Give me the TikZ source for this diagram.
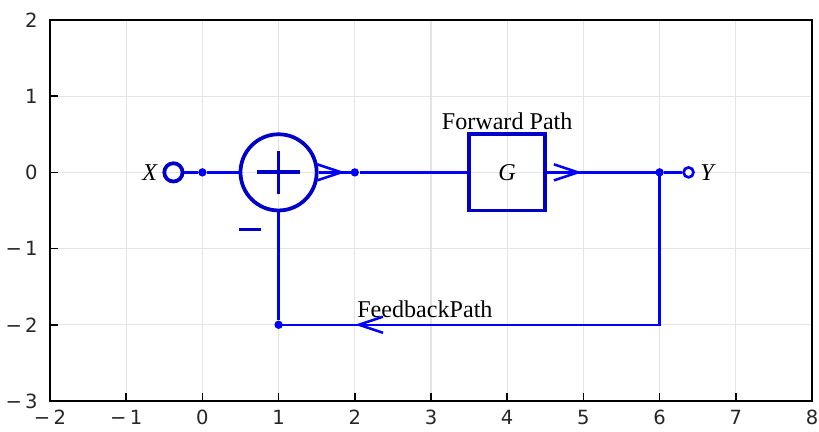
\documentclass[tikz,border=0pt]{standalone}
\usepackage{fontspec}
\setmainfont{Liberation Serif}
\newfontfamily\ticksfont{DejaVu Sans}
\usetikzlibrary{arrows.meta,decorations.markings}
\definecolor{dblue}{RGB}{0,0,200}
\definecolor{lblue}{RGB}{0,0,255}
\definecolor{gridgray}{RGB}{228,228,228}
\tikzset{
  gridline/.style={draw=gridgray,line width=0.5pt},
  frameline/.style={draw=black,line width=0.6pt},
  ticklab/.style={font=\ticksfont\fontsize{7.3}{8}\selectfont,text=black!85,inner sep=1pt},
  wire/.style={draw=lblue,line width=0.95pt},
  thickblk/.style={draw=dblue,line width=1.4pt},
  dotnode/.style={circle,fill=lblue,inner sep=0pt,minimum size=0.11cm},
  lab/.style={font=\fontsize{9}{10}\selectfont,text=black},
  arrmark/.style={postaction={decorate},decoration={markings,mark=at position #1 with {\arrow[lblue,line width=0.95pt]{Straight Barb[length=9pt,width=6pt]}}}}
}
\begin{document}
\begin{tikzpicture}[x=1cm,y=1cm]
\useasboundingbox (-2.656,-3.407) rectangle (8.092,2.262);
% grid
\foreach \x in {-1,...,7} \draw[gridline] (\x,-3) -- (\x,2);
\foreach \y in {-2,...,1} \draw[gridline] (-2,\y) -- (8,\y);
% frame
\draw[frameline] (-2,-3) rectangle (8,2);
\foreach \x in {-1,...,7} \draw[frameline] (\x,-3) -- (\x,-2.9);
\foreach \y in {-2,...,1} \draw[frameline] (-2,\y) -- (-1.9,\y);
% tick labels
\foreach \x/\t in {-2/{−\,2},-1/{−\,1},0/0,1/1,2/2,3/3,4/4,5/5,6/6,7/7,8/8}
  \node[ticklab] (tx\x) at (\x,-3.22) {\t};
\foreach \y/\t in {-3/{−\,3},-2/{−\,2},-1/{−\,1},0/0,1/1,2/2}
  \node[ticklab,anchor=east] (ty\y) at (-2.12,\y) {\t};
% nodes
\node[circle,thickblk,inner sep=0pt,minimum size=0.24cm] (xin) at (-0.38,0) {};
\node[lab,anchor=east] (xl) at (-0.46,0) {\textit{X}};
\node[dotnode] (d0) at (0,0) {};
\node[circle,thickblk,inner sep=0pt,minimum size=1cm] (sum) at (1,0) {};
\draw[thickblk] (0.72,0) -- (1.28,0);
\draw[thickblk] (1,-0.28) -- (1,0.28);
\draw[thickblk] (0.48,-0.75) -- (0.77,-0.75);
\node[dotnode] (d2) at (2,0) {};
\node[rectangle,thickblk,minimum size=1cm,inner sep=0pt,lab] (G) at (4,0) {\textit{G}};
\node[lab] (fwd) at (4,0.67) {Forward Path};
\node[dotnode] (d6) at (6,0) {};
\node[circle,draw=lblue,line width=1pt,inner sep=0pt,minimum size=0.13cm,fill=white] (yout) at (6.38,0) {};
\node[lab,anchor=west] (yl) at (6.41,0) {\textit{Y}};
\node[dotnode] (d1) at (1,-2) {};
\node[lab] (fb) at (2.92,-1.8) {FeedbackPath};
% wires
\draw[wire] (xin) -- (d0) -- (sum.west);
\draw[wire,arrmark=0.74] (sum.east) -- (d2.center);
\draw[wire] (d2) -- (G.west);
\draw[wire,arrmark=0.31] (G.east) -- (d6.center);
\draw[wire] (d6) -- (yout);
\draw[wire,arrmark=0.857] (d6.center) |- (d1.center);
\draw[wire] (d1) -- (sum.south);
\end{tikzpicture}
\end{document}
